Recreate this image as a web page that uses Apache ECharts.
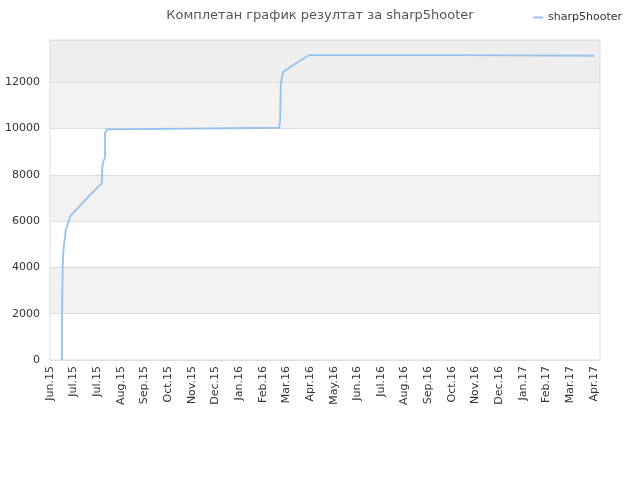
<!DOCTYPE html>
<html>
<head>
<meta charset="utf-8">
<script src="https://cdn.jsdelivr.net/npm/echarts@6/dist/echarts.min.js"></script>
<style>html,body{margin:0;padding:0;background:#fff;}#c{width:640px;height:480px;}</style>
</head>
<body>
<div id="c"></div>
<script>
var titleText = 'Комплетан график резултат за sharp5hooter';
var seriesName = 'sharp5hooter';
var tickLabels = ['Jun.15','Jul.15','Jul.15','Aug.15','Sep.15','Oct.15','Nov.15','Dec.15','Jan.16','Feb.16','Mar.16','Apr.16','May.16','Jun.16','Jul.16','Aug.16','Sep.16','Oct.16','Nov.16','Dec.16','Jan.17','Feb.17','Mar.17','Apr.17'];
var tickDays = 30;
var axisMaxDay = 698;
var yMax = 13820;
// days since first tick (Jun.15)
var days = [15.2, 15.2, 16.1, 16.1, 16.9, 18.2, 19.4, 19.9, 22, 24.5, 25.4, 46.6, 65.6, 66.4, 67.7, 69.8, 69.8, 72, 74, 291, 292, 292.8, 294.1, 296.1, 300.5, 315.2, 329.1, 509, 509.5, 690.5];
var scores = [0, 1650, 1700, 4020, 4680, 5100, 5400, 5610, 5820, 5850, 6200, 6980, 7630, 8345, 8560, 8750, 9785, 9960, 10030, 10030, 10360, 11800, 12160, 12450, 12550, 12880, 13170, 13170, 13140, 13140];
var shadedBands = [[2000, 4000], [6000, 8000], [10000, 12000]];
var topBand = [12000, yMax];

var data = days.map(function(d, i){ return [d, scores[i]]; });
var areas = shadedBands.map(function(b){ return [{ yAxis: b[0], itemStyle: { color: '#f2f2f2' } }, { yAxis: b[1] }]; });
areas.push([{ yAxis: topBand[0], itemStyle: { color: '#eeeeee' } }, { yAxis: topBand[1] }]);

var chart = echarts.init(document.getElementById('c'));
chart.setOption({
  animation: false,
  backgroundColor: '#fff',
  title: {
    text: titleText, left: 'center', top: 4,
    textStyle: { fontFamily: 'DejaVu Sans', fontSize: 13, fontWeight: 'normal', color: '#555' }
  },
  legend: {
    right: 13, top: 7,
    icon: 'rect', itemWidth: 10, itemHeight: 2, itemGap: 5,
    textStyle: { fontFamily: 'DejaVu Sans', fontSize: 11, color: '#333' },
    data: [seriesName]
  },
  grid: { left: 50, right: 40, top: 40, bottom: 120, show: true, borderColor: '#dddddd', borderWidth: 1, backgroundColor: 'transparent', z: 2 },
  xAxis: {
    type: 'value', min: 0, max: axisMaxDay, interval: tickDays, z: 2,
    axisLine: { show: false }, axisTick: { show: false }, splitLine: { show: false },
    axisLabel: {
      rotate: 90, fontFamily: 'DejaVu Sans', fontSize: 11, color: '#333', margin: 6,
      showMaxLabel: false,
      formatter: function(v){ var i = Math.round(v / tickDays); return (Math.abs(v - i*tickDays) < 0.01 && tickLabels[i]) ? tickLabels[i] : ''; }
    }
  },
  yAxis: {
    type: 'value', min: 0, max: yMax, interval: 2000, z: 2,
    axisLine: { show: false }, axisTick: { show: false },
    axisLabel: { fontFamily: 'DejaVu Sans', fontSize: 11, color: '#333', margin: 10, showMaxLabel: false,
      formatter: function(v){ return String(v); } },
    splitLine: { show: true, lineStyle: { color: '#dddddd', width: 1 } },
    splitArea: { show: false }
  },
  series: [{
    name: 'bands', type: 'line', data: [], z: -1, silent: true,
    markArea: { silent: true, z: -1, data: areas }
  }, {
    name: seriesName, type: 'line', data: data, showSymbol: false, symbol: 'none', z: 3,
    lineStyle: { color: '#94c3f0', width: 1.8 }, itemStyle: { color: '#94c3f0' }
  }]
});
</script>
</body>
</html>
